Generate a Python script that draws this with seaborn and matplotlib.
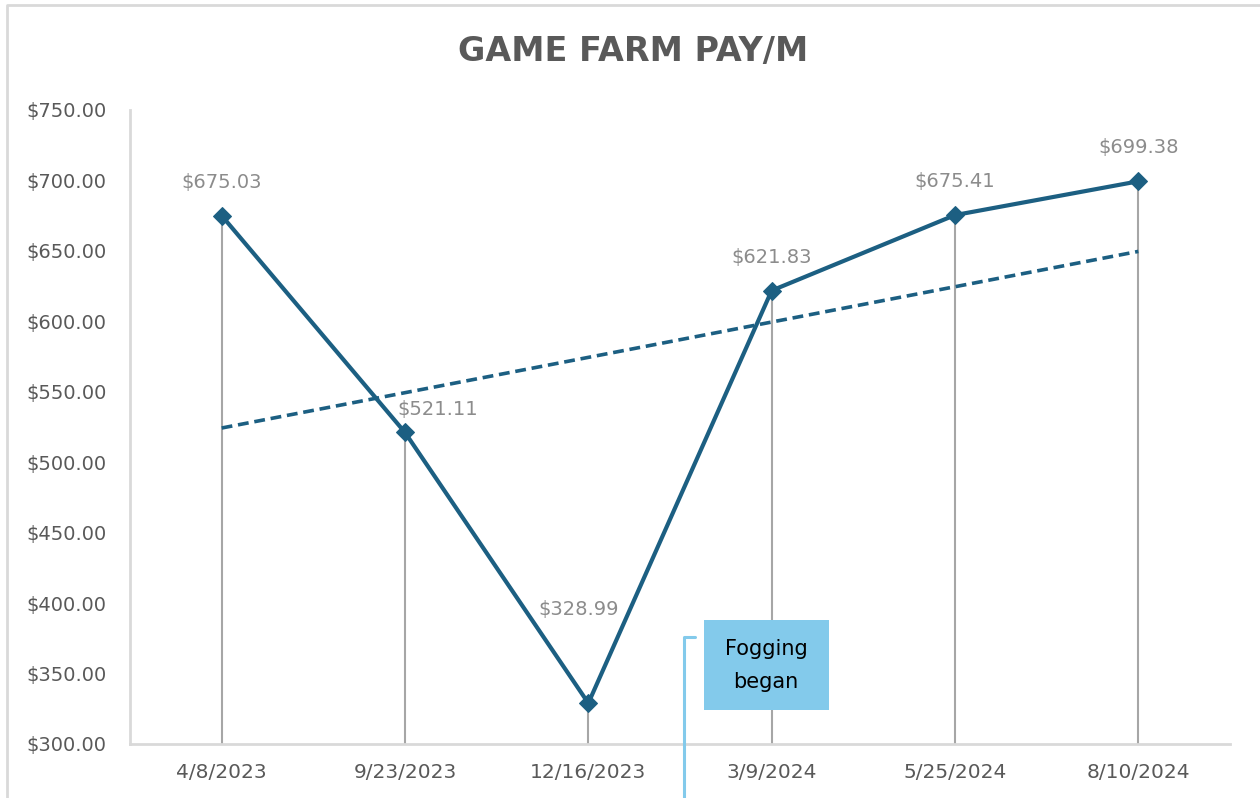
import matplotlib.pyplot as plt
import seaborn as sns
import numpy as np
import pandas as pd
from matplotlib.lines import Line2D
from matplotlib.patches import Rectangle

# Data
dates = ["4/8/2023", "9/23/2023", "12/16/2023", "3/9/2024", "5/25/2024", "8/10/2024"]
pay = [675.03, 521.11, 328.99, 621.83, 675.41, 699.38]
y_ticks = [300, 350, 400, 450, 500, 550, 600, 650, 700, 750]

LINE_COLOR = "#1C5F82"
GRID_GRAY = "#D9D9D9"
DROP_GRAY = "#A6A6A6"
LABEL_GRAY = "#8C8C8C"
CALLOUT_BLUE = "#83CAEB"

sns.set_style("white")
plt.rcParams["font.family"] = ["DejaVu Sans"]

df = pd.DataFrame({"date": dates, "pay": pay, "pos": np.arange(len(dates))})

fig = plt.figure(figsize=(12.6, 7.98), dpi=100)
ax = fig.add_axes([130 / 1260, 54 / 798, 1100 / 1260, 634 / 798])

# Drop lines from each point to the axis
ax.vlines(df["pos"], 300, df["pay"], color=DROP_GRAY, linewidth=1.5, zorder=1)

# Linear trendline
slope, intercept = np.polyfit(df["pos"], df["pay"], 1)
trend_x = np.array([df["pos"].min(), df["pos"].max()])
ax.plot(trend_x, slope * trend_x + intercept, color=LINE_COLOR,
        linestyle=(0, (3, 1.6)), linewidth=2.6, zorder=2)

# Main series
sns.lineplot(data=df, x="pos", y="pay", ax=ax, color=LINE_COLOR, linewidth=3,
             marker="D", markersize=9, markeredgecolor=LINE_COLOR, zorder=3)

# Data labels
label_offsets = {1: (33, -11), 2: (-10, 60)}
for i, (x, y) in enumerate(zip(df["pos"], df["pay"])):
    dx, dy = label_offsets.get(i, (0, 0))
    ax.annotate(f"${y:,.2f}", (x, y), xytext=(dx, 24 + dy), textcoords="offset pixels",
                ha="center", va="bottom", fontsize=14, color=LABEL_GRAY)

ax.set_xlim(-0.5, len(dates) - 0.5)
ax.set_ylim(300, 750)
ax.set_xticks(df["pos"])
ax.set_xticklabels(dates, fontsize=14.5, color="#595959")
ax.set_yticks(y_ticks)
ax.set_yticklabels([f"${v:,.2f}" for v in y_ticks], fontsize=14, color="#595959")
ax.tick_params(axis="both", length=0)
ax.tick_params(axis="x", pad=14)
ax.tick_params(axis="y", pad=17)
ax.set_xlabel("")
ax.set_ylabel("")
for side in ["top", "right"]:
    ax.spines[side].set_visible(False)
for side in ["left", "bottom"]:
    ax.spines[side].set_color(GRID_GRAY)
    ax.spines[side].set_linewidth(2)

# Title
fig.text(633 / 1260, 1 - 52 / 798, "GAME FARM PAY/M", ha="center", va="center",
         fontsize=24, fontweight="bold", color="#595959")

# Callout box and leader line
ax.add_patch(Rectangle((2.63, 324), 0.68, 64, facecolor=CALLOUT_BLUE,
                       edgecolor="none", zorder=4))
ax.text(2.97, 356, "Fogging\nbegan", ha="center", va="center", fontsize=15,
        color="black", linespacing=1.8, zorder=5)
leader = Line2D([695 / 1260, 684 / 1260, 684 / 1260],
                [1 - 637 / 798, 1 - 637 / 798, 0],
                transform=fig.transFigure, color=CALLOUT_BLUE, linewidth=2.2)
fig.add_artist(leader)

# Chart area border (cropped on the right and bottom)
border = Line2D([7 / 1260, 7 / 1260, 1], [0, 1 - 5 / 798, 1 - 5 / 798],
                transform=fig.transFigure, color=GRID_GRAY, linewidth=2)
fig.add_artist(border)

fig.savefig("out.png", dpi=100)
